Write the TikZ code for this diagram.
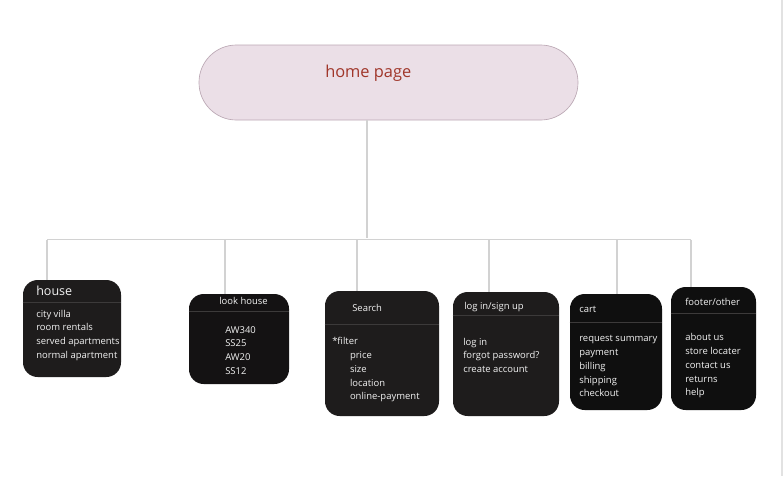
\documentclass[tikz,border=0pt]{standalone}
\usepackage{fontspec}
\setmainfont{Open Sans}
\usetikzlibrary{positioning}
\definecolor{pagefill}{HTML}{EBDFE7}
\definecolor{pageline}{HTML}{BCA9B5}
\definecolor{homered}{HTML}{A0362A}
\definecolor{boxsoft}{HTML}{1E1C1C}
\definecolor{boxmid}{HTML}{141213}
\definecolor{boxdeep}{HTML}{0F0F0F}
\definecolor{menutext}{HTML}{F2F2F2}
\definecolor{linkgray}{HTML}{D2D2D2}
\definecolor{rulegray}{HTML}{3C3A3A}
\definecolor{framegray}{HTML}{E2E2E2}
\tikzset{
    page/.style={draw=pageline,fill=pagefill,rounded corners=28pt,line width=0.5pt,inner sep=0pt},
    menu/.style={fill=#1,rounded corners=11pt,inner sep=0pt},
    menu/.default=boxsoft,
    title/.style={text=menutext,font=\fontsize{7.1}{10.3}\selectfont,anchor=base west,inner sep=0pt},
    % base of a multi-line node is the last line, so entries sit on their last baseline
    items/.style={text=menutext,font=\fontsize{7.1}{10.3}\selectfont,align=left,anchor=base west,inner sep=0pt},
    link/.style={draw=linkgray,line width=0.8pt},
    rule/.style={draw=rulegray,line width=0.7pt}
}

\begin{document}
\begin{tikzpicture}[x=0.75pt,y=-0.75pt]

    \fill[white] (0,0) rectangle (783,476);
    \useasboundingbox (0,0) rectangle (783,476);
    \draw[framegray,line width=0.8pt] (782,0) -- (782,476);

    % top level
    \node[page,minimum width=284.25pt,minimum height=56.25pt] (home page) at (388.5,82.5) {};
    \node[anchor=base west,inner sep=0pt,text=homered,font=\fontsize{12.3}{14}\selectfont] (home title) at (325,77) {home page};

    % menu boxes
    \node[menu=boxsoft,minimum width=73.5pt,minimum height=72.75pt] (house)      at (72,328.5)  {};
    \node[menu=boxmid, minimum width=75pt,  minimum height=67.5pt]  (look house) at (239,339)   {};
    \node[menu=boxsoft,minimum width=85.5pt,minimum height=93.75pt] (search)     at (382,353.5) {};
    \node[menu=boxsoft,minimum width=79.5pt,minimum height=93pt]    (log in)     at (506,354)   {};
    \node[menu=boxdeep,minimum width=69pt,  minimum height=87pt]    (cart)       at (616,352)   {};
    \node[menu=boxdeep,minimum width=63.75pt,minimum height=92.25pt](footer)     at (713.5,348.5) {};

    \foreach \b/\y in {house/302, look house/311, search/324, log in/315, cart/322, footer/313}
        \draw[rule] (\b.west |- 0,\y) -- (\b.east |- 0,\y);

    % titles
    \node[title,font=\fontsize{9.4}{11}\selectfont] (house title) at (36,295) {house};
    \node[title] (look house title) at (219,304) {look house};
    \node[title] (search title)     at (352,311) {Search};
    \node[title] (log in title)     at (464,309) {log in/sign up};
    \node[title] (cart title)       at (579,312) {cart};
    \node[title] (footer title)     at (685,305) {footer/other};

    % entries
    \node[items] (house items) at (36,358.2) {city villa\\room rentals\\served apartments\\normal apartment};
    \node[items] (look house items) at (225,374.2) {AW340\\SS25\\AW20\\SS12};
    \node[items] (search items) at (332,399.9) {*filter\\\hspace*{13.3pt}price\\\hspace*{13.3pt}size\\\hspace*{13.3pt}location\\\hspace*{13.3pt}online-payment};
    \node[items] (log in items) at (463,372.5) {log in\\forgot password?\\create account};
    \node[items] (cart items) at (579,396.9) {request summary\\payment\\billing\\shipping\\checkout};
    \node[items] (footer items) at (685,395.9) {about us\\store locater\\contact us\\returns\\help};

    % connectors
    \coordinate (bus left)  at (47,239.5);
    \coordinate (bus right) at (691,239.5);
    \coordinate (bus mid)   at (367,237.5);
    \draw[link] (bus mid |- home page.south) -- (bus mid);
    \draw[link] (bus left) -- (bus right);
    \foreach \x/\b in {47/house, 225/look house, 357/search, 489/log in, 617/cart, 691/footer}
        \draw[link] (\x,239.5) -- (\x,0 |- \b.north);

\end{tikzpicture}
\end{document}
